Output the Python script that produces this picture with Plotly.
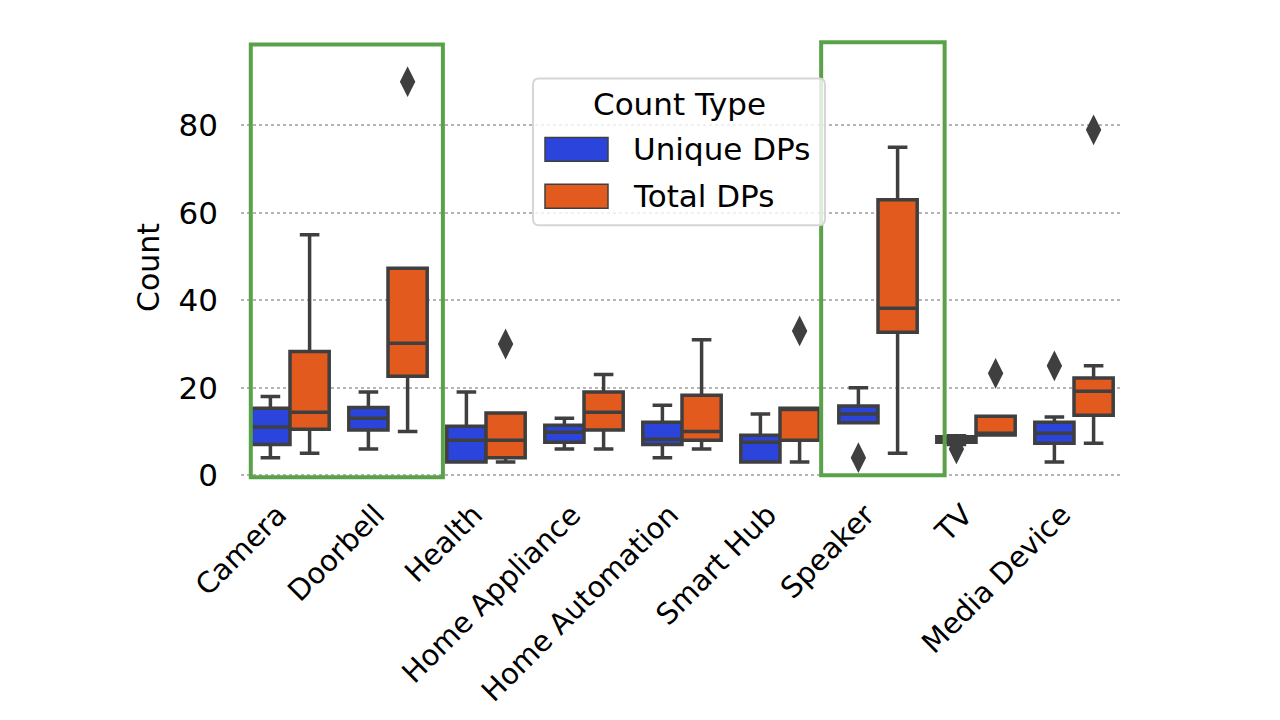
import plotly.graph_objects as go
import numpy as np

categories = ["Camera", "Doorbell", "Health", "Home Appliance", "Home Automation",
              "Smart Hub", "Speaker", "TV", "Media Device"]

# Unique DPs box stats
u_low = [4, 6, 3, 6, 4, 3, 12, 7, 3]
u_q1 = [7, 10.3, 3, 7.5, 7, 3, 12, 7.5, 7.3]
u_med = [11, 13, 8, 9.8, 8.2, 7.5, 14, 8, 9.6]
u_q3 = [15.3, 15.5, 11.2, 11.4, 12.1, 9.1, 15.8, 8.8, 12.1]
u_high = [18, 19, 19, 13, 16, 14, 20, 9, 13.3]
u_out_cat = [6, 7, 8]
u_out_val = [4, 6, 25]

# Total DPs box stats
t_low = [5, 10, 3, 6, 6, 3, 5, 9.2, 7.3]
t_q1 = [10.5, 22.6, 4, 10.3, 8, 8, 32.7, 9.2, 13.7]
t_med = [14.4, 30.2, 8, 14.4, 10, 15, 38.2, 9.6, 19.2]
t_q3 = [28.3, 47.3, 14.2, 19, 18.3, 15.3, 63, 13.5, 22.2]
t_high = [55, 47.3, 14.2, 23, 31, 15.3, 75, 13.5, 25]
t_out_cat = [1, 2, 5, 7, 8]
t_out_val = [90, 30, 33, 23.3, 79]

series_names = ["Unique DPs", "Total DPs"]
legend_title = "Count Type"
colors = ["#2b45dc", "#e35a1f"]
line_color = "#3f3f3f"
FONT = "DejaVu Sans"

W, H = 1280, 720
ML, MR, MT, MB = 241, 157, 37.5, 223
PW, PH = W - ML - MR, H - MT - MB


def px(xp):
    return (xp - ML) / PW


def py(yp):
    return (H - MB - yp) / PH


idx = np.arange(len(categories))
fig = go.Figure()

stats = [(u_low, u_q1, u_med, u_q3, u_high, u_out_cat, u_out_val),
         (t_low, t_q1, t_med, t_q3, t_high, t_out_cat, t_out_val)]
offsets = [-0.2, 0.2]
for k, (lo, q1, med, q3, hi, oc, ov) in enumerate(stats):
    fig.add_trace(go.Box(
        x=idx + offsets[k], q1=q1, median=med, q3=q3,
        lowerfence=lo, upperfence=hi,
        width=0.4, whiskerwidth=0.5,
        name=series_names[k],
        fillcolor=colors[k],
        line=dict(color=line_color, width=3.5),
        boxpoints=False, hoverinfo="skip", showlegend=False,
    ))
for k, (lo, q1, med, q3, hi, oc, ov) in enumerate(stats):
    fig.add_trace(go.Scatter(
        x=np.array(oc) + offsets[k], y=ov, mode="markers",
        marker=dict(symbol="diamond-tall", size=22, color=line_color),
        showlegend=False, hoverinfo="skip",
    ))

# green highlight rectangles
fig.add_shape(type="rect", xref="x", yref="y", x0=-0.40, x1=1.56, y0=-0.5, y1=98.5,
              line=dict(color="#5aa24a", width=4), fillcolor="rgba(0,0,0,0)")
fig.add_shape(type="rect", xref="x", yref="y", x0=5.42, x1=6.68, y0=0, y1=99,
              line=dict(color="#5aa24a", width=4), fillcolor="rgba(0,0,0,0)")

# manual legend (matplotlib style)
lx0, lx1, ly0, ly1, r = 533, 825, 78, 225, 6
x0, x1, y0, y1 = px(lx0), px(lx1), py(ly1), py(ly0)
rx, ry = r / PW, r / PH
path = (f"M {x0+rx},{y0} L {x1-rx},{y0} Q {x1},{y0} {x1},{y0+ry} "
        f"L {x1},{y1-ry} Q {x1},{y1} {x1-rx},{y1} L {x0+rx},{y1} "
        f"Q {x0},{y1} {x0},{y1-ry} L {x0},{y0+ry} Q {x0},{y0} {x0+rx},{y0} Z")
fig.add_shape(type="path", xref="paper", yref="paper", path=path,
              line=dict(color="#d6d6d6", width=2), fillcolor="rgba(255,255,255,0.8)")
fig.add_annotation(xref="paper", yref="paper", x=px(679), y=py(104),
                   text=legend_title, showarrow=False, xanchor="center", yanchor="middle",
                   font=dict(family=FONT, size=31, color="black"))
for k, name in enumerate(series_names):
    yc = 149 + 47 * k
    fig.add_shape(type="rect", xref="paper", yref="paper",
                  x0=px(545), x1=px(608), y0=py(yc + 12), y1=py(yc - 12),
                  line=dict(color=line_color, width=1.5), fillcolor=colors[k])
    fig.add_annotation(xref="paper", yref="paper", x=px(631), y=py(yc),
                       text=name, showarrow=False, xanchor="left", yanchor="middle",
                       font=dict(family=FONT, size=31, color="black"))

fig.update_layout(
    width=W, height=H,
    margin=dict(l=ML, r=MR, t=MT, b=MB, autoexpand=False),
    paper_bgcolor="white", plot_bgcolor="white",
    font=dict(family=FONT, size=29, color="black"),
    showlegend=False,
    xaxis=dict(
        range=[-0.5, 8.5], tickmode="array", tickvals=list(idx), ticktext=categories,
        tickangle=-45, showgrid=False, zeroline=False, showline=False,
        ticks="", ticklabelshift=-12, ticklabelstandoff=-6,
        tickfont=dict(size=29), automargin=False,
    ),
    yaxis=dict(
        range=[-5, 100], tickvals=[0, 20, 40, 60, 80],
        showgrid=True, gridcolor="#b5b5b5", griddash="dot", gridwidth=2,
        zeroline=False, showline=False,
        ticks="", ticklabelstandoff=22,
        tickfont=dict(size=31), automargin=False,
        title=dict(text="Count", font=dict(size=30), standoff=10),
    ),
)

fig.write_html("out.html")
